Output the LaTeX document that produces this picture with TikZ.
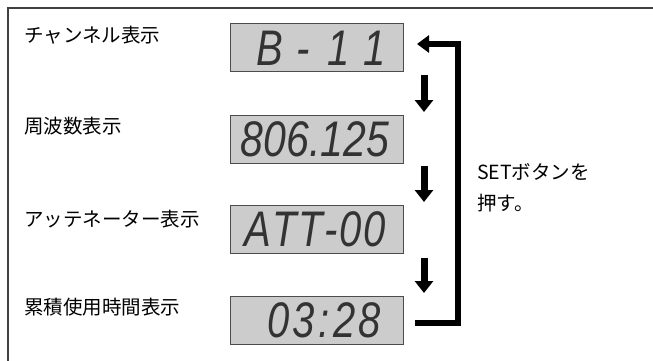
\documentclass[tikz,border=0pt]{standalone}
\usepackage{fontspec}
\setmainfont{Liberation Sans}
\newfontfamily\jpfont{Noto Sans CJK JP}
\newfontfamily\segfont{Liberation Sans}
\usetikzlibrary{arrows.meta}
\begin{document}
\begin{tikzpicture}[x=1pt,y=-1pt,
  lbl/.style={anchor=west,inner sep=0pt,font=\jpfont\fontsize{19.5}{19.5}\selectfont},
  lcd/.style={draw=black!70,line width=1pt,fill=black!20,minimum width=173pt,minimum height=48pt,inner sep=0pt},
  seg/.style={inner sep=0pt,font=\segfont\itshape\fontsize{50}{50}\selectfont,text=black!80},
  dnarrow/.style={line width=7pt,-{Triangle[length=12pt,width=18pt]}},
  loopline/.style={line width=6pt,-{Triangle[length=12pt,width=17pt]}}]
\useasboundingbox (0,0) rectangle (653,361);
\draw[black!75,line width=1.5pt] (8,361) -- (8,8) -- (653,8);
% labels
\node[lbl] (l1) at (24,35) {チャンネル表示};
\node[lbl] (l2) at (24,126) {周波数表示};
\node[lbl] (l3) at (24,219) {アッテネーター表示};
\node[lbl] (l4) at (24,307) {累積使用時間表示};
% displays
\node[lcd] (b1) at (316.5,48) {};
\node[lcd] (b2) at (316.5,139) {};
\node[lcd] (b3) at (316.5,229) {};
\node[lcd] (b4) at (316.5,320.5) {};
\node[seg] (d1) at (321,48) {\scalebox{0.8}[1]{B\kern3pt{} -\kern8pt{} 1\kern4pt{} 1}};
\node[seg] (d2) at (315,139) {\scalebox{0.82}[1]{806.125}};
\node[seg] (d3) at (315,229) {\scalebox{0.8}[1]{A\kern2pt T\kern2pt T\kern2pt -\kern2pt 0\kern2pt 0}};
\node[seg] (d4) at (324,320.5) {\scalebox{0.8}[1]{0\kern3pt 3\kern5pt:\kern5pt 2\kern3pt 8}};
% down arrows
\coordinate (a1s) at (424,75);  \coordinate (a1e) at (424,112);
\coordinate (a2s) at (424,166); \coordinate (a2e) at (424,202);
\coordinate (a3s) at (424,258); \coordinate (a3e) at (424,293);
\draw[dnarrow] (a1s) -- (a1e);
\draw[dnarrow] (a2s) -- (a2e);
\draw[dnarrow] (a3s) -- (a3e);
% return loop
\coordinate (lpA) at (415,323);
\coordinate (lpB) at (458,323);
\coordinate (lpC) at (458,44);
\coordinate (lpD) at (417,44);
\draw[loopline] (lpA) -- (lpB) -- (lpC) -- (lpD);
% side text
\node[lbl] (s1) at (477,172) {SETボタンを};
\node[lbl] (s2) at (477,203) {押す。};
\end{tikzpicture}
\end{document}
